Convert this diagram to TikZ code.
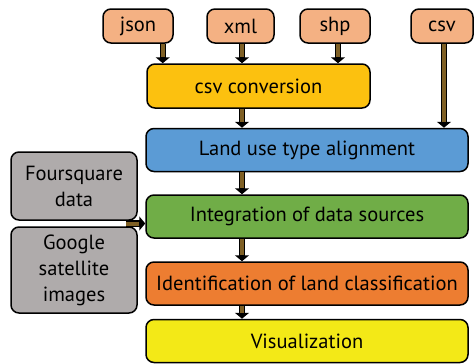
\documentclass[tikz,border=0pt]{standalone}
\usepackage{fontspec}
\setmainfont{PT Sans}
\usetikzlibrary{arrows.meta,calc}
\definecolor{salmon}{HTML}{F4B183}
\definecolor{gold}{HTML}{FCC10F}
\definecolor{skyblue}{HTML}{5B9BD5}
\definecolor{leaf}{HTML}{70AD47}
\definecolor{tangerine}{HTML}{ED7D31}
\definecolor{lemon}{HTML}{F3E917}
\definecolor{stone}{HTML}{AFABAB}
\definecolor{mud}{HTML}{7F6025}
\begin{document}
\begin{tikzpicture}[x=1pt,y=-1pt,
        box/.style={draw=black,line width=1.5pt,rounded corners=8pt,font=\fontsize{20.5}{26}\selectfont,align=center,inner sep=0pt},
        src/.style={box,fill=salmon,minimum height=34pt},
        stage/.style={box,minimum width=322pt,minimum height=43pt},
        side/.style={box,fill=stone,minimum width=126pt},
        fat/.style={draw=black,line width=6.5pt,-{Triangle[length=6pt,width=14pt]},
            postaction={draw=mud,line width=4pt,shorten >=6pt,-}}]
    \useasboundingbox (0,0) rectangle (475,364);
            \node[src,minimum width=70pt] (json) at (138,26) {json};
            \node[src,minimum width=67pt] (xml) at (240.5,26) {xml};
            \node[src,minimum width=70pt] (shp) at (335,26) {shp};
            \node[src,minimum width=62pt] (csv) at (442,26) {csv};
            \node[box,fill=gold,minimum width=223pt,minimum height=44pt] (conv) at (258.5,86) {csv conversion};
            \node[stage,fill=skyblue] (align) at (307,150) {Land use type alignment};
            \node[stage,fill=leaf] (integ) at (307,216.5) {Integration of data sources};
            \node[stage,fill=tangerine] (ident) at (307,283.5) {Identification of land classification};
            \node[stage,fill=lemon] (vis) at (307,341) {Visualization};
            \node[side,minimum height=68pt] (four) at (74,186) {Foursquare\\data};
            \node[side,minimum height=86pt] (google) at (74,270) {Google\\satellite\\images};
            \coordinate (spine) at (242,0);
            \coordinate (join) at ($(four.south east)!0.5!(google.north east)+(-12,0)$);
            \draw[fat] ([xshift=-11pt]json.south east) -- ([xshift=-11pt]json.south east |- conv.north);
            \draw[fat] (spine |- xml.south) -- (spine |- conv.north);
            \draw[fat] ([xshift=3pt]shp.south) -- ([xshift=3pt]shp.south |- conv.north);
            \draw[fat] ([xshift=2pt]csv.south) -- ([xshift=2pt]csv.south |- align.north);
            \draw[fat] (spine |- conv.south) -- (spine |- align.north);
            \draw[fat] (spine |- align.south) -- (spine |- integ.north);
            \draw[fat] (spine |- integ.south) -- (spine |- ident.north);
            \draw[fat] (spine |- ident.south) -- (spine |- vis.north);
            \draw[fat] (join) -- (join -| integ.west);
        \end{tikzpicture}
\end{document}
